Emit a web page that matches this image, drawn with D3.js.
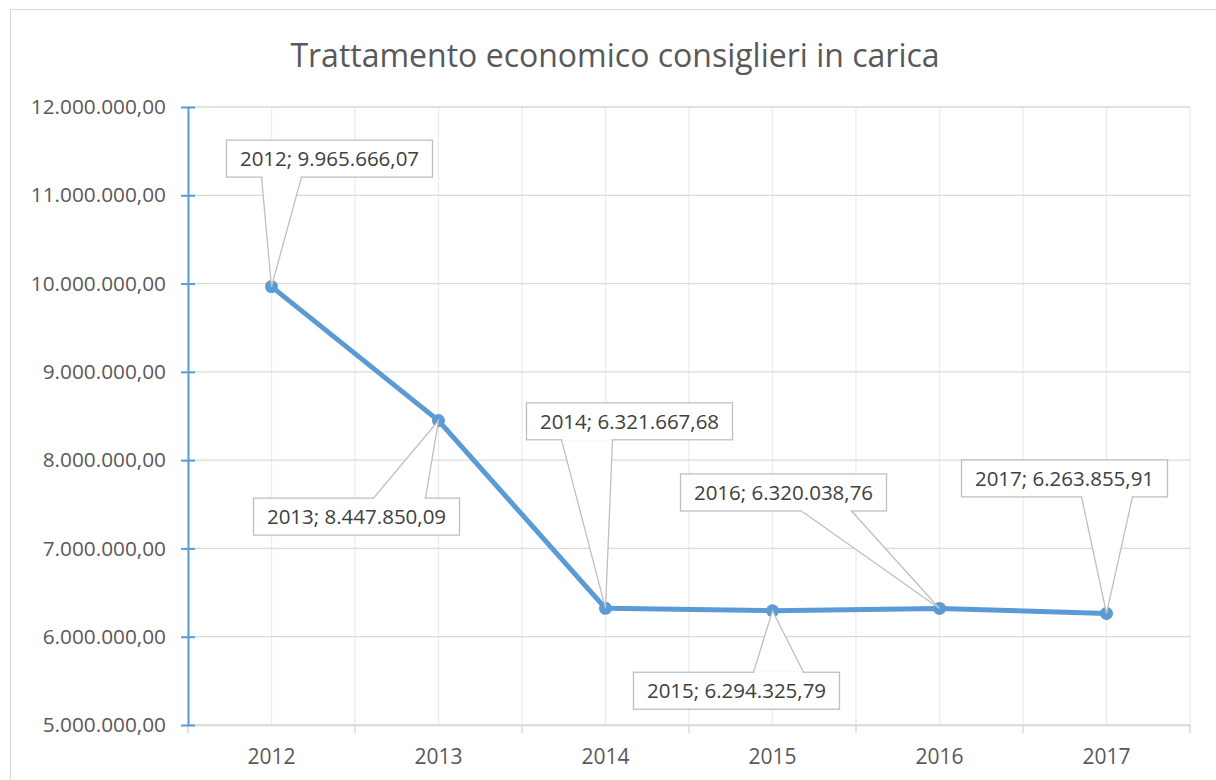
<!DOCTYPE html>
<html>
<head>
<meta charset="utf-8">
<script src="https://cdn.jsdelivr.net/npm/d3@7"></script>
<style>
  body { margin: 0; background: #fff; }
  text { font-family: "Open Sans", "Noto Sans", sans-serif; }
</style>
</head>
<body>
<svg id="chart" width="1216" height="780"></svg>
<script>
"use strict";

// dati
var years = ["2012", "2013", "2014", "2015", "2016", "2017"]
var values = [9965666.07, 8447850.09, 6321667.68, 6294325.79, 6320038.76, 6263855.91]
var yTicks = [5000000, 6000000, 7000000, 8000000, 9000000, 10000000, 11000000, 12000000]

// posizione delle etichette rispetto al punto (centro box) e punte del fumetto
var calloutLayout = [
    { dx: 58, dy: -128, wedge: [-68, -28], side: "bottom" },
    { dx: -82, dy: 96, wedge: [17, 69], side: "top" },
    { dx: 24, dy: -187, wedge: [-68, -17], side: "bottom" },
    { dx: -36, dy: 80, wedge: [17, 67], side: "top" },
    { dx: -156, dy: -116, wedge: [18, 68], side: "bottom" },
    { dx: -42, dy: -135, wedge: [17, 68], side: "bottom" }
]

var svg = d3.select("#chart")
var margin = { left: 188, right: 26, top: 107, bottom: 55 }
var width = 1216 - margin.left - margin.right
var height = 780 - margin.top - margin.bottom

var fmt = d3.formatLocale({ decimal: ",", thousands: ".", grouping: [3], currency: ["", "€"] }).format(",.2f")

var x = d3.scaleBand().domain(years).range([0, width])
var y = d3.scaleLinear().domain([5000000, 12000000]).range([height, 0])

// cornice esterna
svg.append("rect")
    .attr("x", 10.5).attr("y", 9.5)
    .attr("width", 1230).attr("height", 800)
    .attr("fill", "#fff").attr("stroke", "#d9d9d9")

svg.append("text")
    .attr("x", 615).attr("y", 67)
    .attr("text-anchor", "middle")
    .attr("font-size", 32)
    .attr("fill", "#595959")
    .text("Trattamento economico consiglieri in carica")

var g = svg.append("g")
    .attr("transform", "translate(" + margin.left + "," + margin.top + ")")

// griglia verticale (centri e separatori)
var vLines = years.map(d => x(d) + x.bandwidth() / 2).concat(years.map(d => x(d)), [width])
g.selectAll(".vgrid").data(vLines).enter().append("line")
    .attr("x1", d => d).attr("x2", d => d)
    .attr("y1", 0).attr("y2", height)
    .attr("stroke", "#ececec").attr("stroke-width", 1.3)

// griglia orizzontale
g.selectAll(".hgrid").data(yTicks).enter().append("line")
    .attr("x1", 0).attr("x2", width)
    .attr("y1", d => y(d)).attr("y2", d => y(d))
    .attr("stroke", "#d9d9d9").attr("stroke-width", 1.3)

// asse x
var xAxis = g.append("g")
    .attr("transform", "translate(0," + height + ")")
    .call(d3.axisBottom(x).tickSize(0).tickPadding(24))
xAxis.select(".domain").attr("stroke", "#d9d9d9").attr("stroke-width", 1.5)
xAxis.selectAll("text").attr("font-size", 21).attr("fill", "#595959")
xAxis.selectAll(".sep").data(years.map(d => x(d)).concat([width])).enter().append("line")
    .attr("x1", d => d).attr("x2", d => d)
    .attr("y1", 0).attr("y2", 8)
    .attr("stroke", "#d9d9d9").attr("stroke-width", 1.5)

// asse y
var yAxis = g.append("g")
    .call(d3.axisLeft(y).tickValues(yTicks).tickFormat(fmt).tickSizeInner(7).tickSizeOuter(0).tickPadding(15))
yAxis.select(".domain").attr("stroke", "#5b9bd5").attr("stroke-width", 2)
yAxis.selectAll(".tick line").attr("stroke", "#5b9bd5").attr("stroke-width", 2).attr("x2", 7).attr("x1", -7)
yAxis.selectAll("text").attr("font-size", 20.8).attr("fill", "#595959")

var pts = years.map((d, i) => ({ year: d, value: values[i], px: x(d) + x.bandwidth() / 2, py: y(values[i]) }))

var line = d3.line().x(d => d.px).y(d => d.py)
g.append("path").datum(pts)
    .attr("d", line)
    .attr("fill", "none")
    .attr("stroke", "#5b9bd5")
    .attr("stroke-width", 5)
    .attr("stroke-linejoin", "round")

g.selectAll(".dot").data(pts).enter().append("circle")
    .attr("cx", d => d.px).attr("cy", d => d.py)
    .attr("r", 6.5)
    .attr("fill", "#5b9bd5")

// fumetti con etichette
var boxW = 206, boxH = 37
pts.forEach(function (p, i) {
    var L = calloutLayout[i]
    var cx = p.px + L.dx, cy = p.py + L.dy
    var edge = L.side === "bottom" ? cy + boxH / 2 : cy - boxH / 2
    var c = g.append("g")
    c.append("path")
        .attr("d", "M" + (cx + L.wedge[0]) + "," + edge + "L" + p.px + "," + p.py + "L" + (cx + L.wedge[1]) + "," + edge)
        .attr("fill", "#fff")
        .attr("stroke", "#bfbfbf")
        .attr("stroke-width", 1.3)
    c.append("rect")
        .attr("x", cx - boxW / 2).attr("y", cy - boxH / 2)
        .attr("width", boxW).attr("height", boxH)
        .attr("fill", "#fff")
        .attr("stroke", "#bfbfbf").attr("stroke-width", 1.3)
    // ricopre il lato del box dove entra la punta
    c.append("line")
        .attr("x1", cx + L.wedge[0] + 1).attr("x2", cx + L.wedge[1] - 1)
        .attr("y1", edge).attr("y2", edge)
        .attr("stroke", "#fff").attr("stroke-width", 2)
    c.append("text")
        .attr("x", cx).attr("y", cy)
        .attr("dy", "0.36em")
        .attr("text-anchor", "middle")
        .attr("font-size", 20.5)
        .attr("fill", "#404040")
        .text(p.year + "; " + fmt(p.value))
})
</script>
</body>
</html>
